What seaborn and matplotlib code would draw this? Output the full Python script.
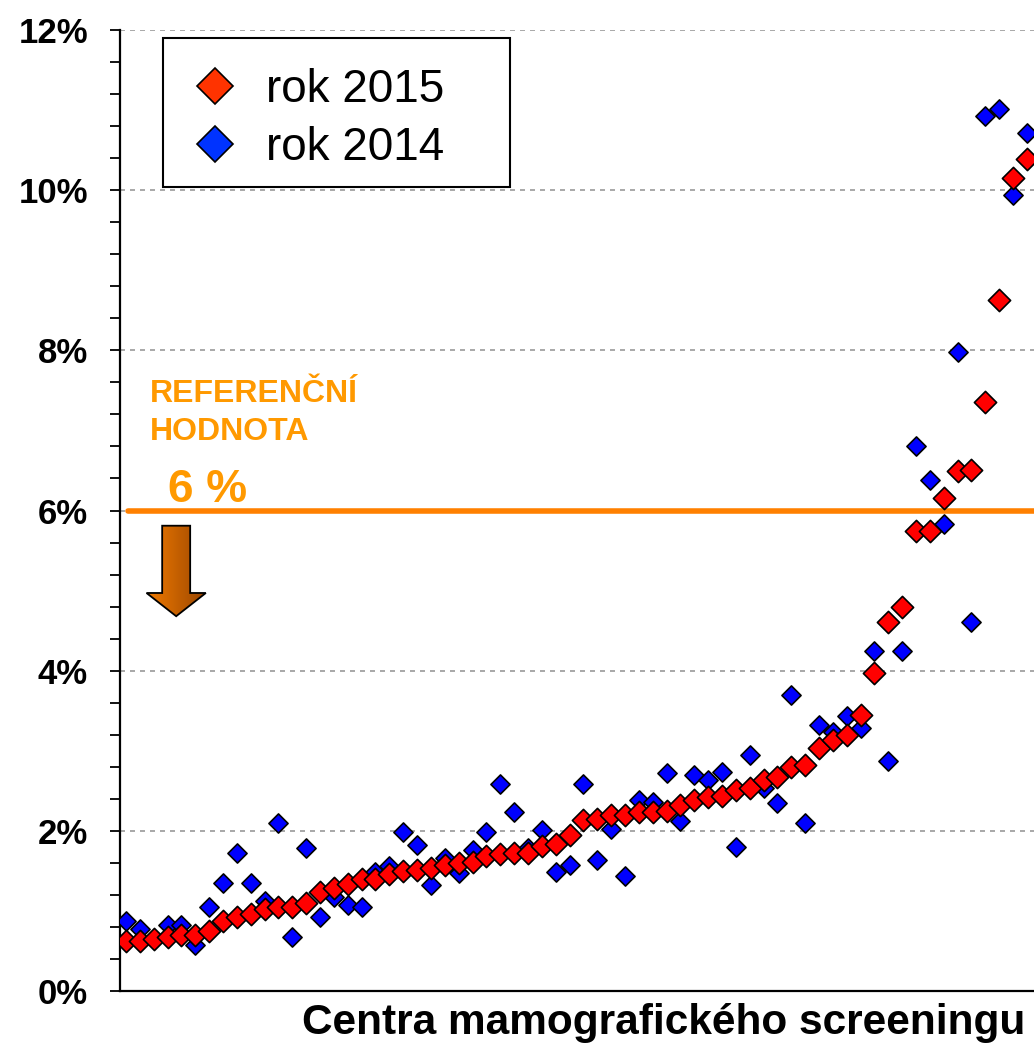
import numpy as np
import pandas as pd
import seaborn as sns
import matplotlib.pyplot as plt
from matplotlib.lines import Line2D
from matplotlib.patches import Polygon, Rectangle
from matplotlib.colors import LinearSegmentedColormap
from matplotlib.ticker import MultipleLocator, FuncFormatter

# podil (%) po centrech, serazeno podle roku 2015
rok_2015 = [0.62, 0.62, 0.65, 0.67, 0.70, 0.70, 0.75, 0.88, 0.93, 0.96,
            1.02, 1.05, 1.05, 1.10, 1.23, 1.28, 1.33, 1.40, 1.40, 1.46,
            1.50, 1.51, 1.53, 1.57, 1.60, 1.61, 1.68, 1.71, 1.72, 1.72,
            1.81, 1.84, 1.95, 2.13, 2.15, 2.20, 2.20, 2.23, 2.24, 2.25,
            2.32, 2.39, 2.42, 2.43, 2.51, 2.54, 2.63, 2.67, 2.80, 2.82,
            3.04, 3.14, 3.20, 3.45, 3.97, 4.61, 4.79, 5.74, 5.74, 6.16,
            6.49, 6.51, 7.35, 8.63, 10.15, 10.39]
rok_2014 = [0.88, 0.77, 0.65, 0.82, 0.82, 0.57, 1.05, 1.35, 1.72, 1.35,
            1.12, 2.10, 0.68, 1.78, 0.93, 1.17, 1.08, 1.05, 1.49, 1.56,
            1.98, 1.82, 1.32, 1.66, 1.47, 1.76, 1.98, 2.59, 2.23, 1.78,
            2.01, 1.48, 1.57, 2.59, 1.63, 2.02, 1.43, 2.38, 2.36, 2.72,
            2.12, 2.70, 2.63, 2.74, 1.80, 2.95, 2.54, 2.35, 3.70, 2.10,
            3.32, 3.23, 3.43, 3.29, 4.24, 2.87, 4.24, 6.80, 6.38, 5.83,
            7.98, 4.61, 10.92, 11.01, 9.94, 10.72]
series_labels = ["rok 2015", "rok 2014"]
ref_value = 6
ref_lines = ["REFERENČNÍ", "HODNOTA"]
ref_label = "6 %"
xlabel = "Centra mamografického screeningu"

centra = np.arange(1, len(rok_2015) + 1)
df = pd.DataFrame({
    "centrum": np.concatenate([centra, centra]),
    "podil": rok_2014 + rok_2015,
    "rok": ["2014"] * len(rok_2014) + ["2015"] * len(rok_2015),
})

sns.set_style("white")
plt.rcParams["font.family"] = ["Liberation Sans", "DejaVu Sans"]
plt.rcParams["text.color"] = "black"
plt.rcParams["ytick.color"] = "black"
plt.rcParams["xtick.color"] = "black"
plt.rcParams["axes.labelcolor"] = "black"

W, H = 1034, 1045
fig = plt.figure(figsize=(W / 100, H / 100), dpi=100)
ax = fig.add_axes([120 / W, 54 / H, 914 / W, 961 / H])

sns.scatterplot(data=df[df["rok"] == "2014"], x="centrum", y="podil",
                marker="D", s=95, color="#0000FF", edgecolor="black",
                linewidth=1.2, ax=ax, zorder=3, legend=False)
sns.scatterplot(data=df[df["rok"] == "2015"], x="centrum", y="podil",
                marker="D", s=128, color="#FF0000", edgecolor="black",
                linewidth=1.2, ax=ax, zorder=4, legend=False)

ax.set_xlim(0.567, 66.51)
ax.set_ylim(0, 12)
ax.set_xlabel("")
ax.set_ylabel("")
ax.set_xticks([])
ax.yaxis.set_major_locator(MultipleLocator(2))
ax.yaxis.set_minor_locator(MultipleLocator(0.4))
ax.yaxis.set_major_formatter(FuncFormatter(lambda v, p: f"{v:.0f}%"))
ax.tick_params(axis="y", which="both", direction="out", length=7,
               width=1.3, color="black", left=True, pad=16)
for lab in ax.get_yticklabels():
    lab.set_fontsize(25)
    lab.set_fontweight("bold")
    lab.set_color("black")

for side in ["top", "right"]:
    ax.spines[side].set_visible(False)
for side in ["left", "bottom"]:
    ax.spines[side].set_color("black")
    ax.spines[side].set_linewidth(1.6)

ax.yaxis.grid(True, which="major", linestyle=(0, (3, 3)),
              color="#999999", linewidth=1.2, zorder=0)
ax.set_axisbelow(True)

# referencni hodnota
ax.axhline(ref_value, xmin=8 / 914, xmax=1, color="#FF8000", lw=4, zorder=2)
orange = "#FF9900"
ax.text(2.73, ref_value + 1.36, ref_lines[0], color=orange, fontsize=23,
        fontweight="bold", ha="left", va="baseline")
ax.text(2.73, ref_value + 0.88, ref_lines[1], color=orange, fontsize=23,
        fontweight="bold", ha="left", va="baseline")
ax.text(4.0, ref_value + 0.11, ref_label, color=orange, fontsize=33,
        fontweight="bold", ha="left", va="baseline")

# sipka dolu
cx = 4.62
verts = [(cx - 1.01, ref_value - 0.19), (cx + 1.01, ref_value - 0.19),
         (cx + 1.01, ref_value - 1.03), (cx + 2.14, ref_value - 1.03),
         (cx, ref_value - 1.32), (cx - 2.14, ref_value - 1.03),
         (cx - 1.01, ref_value - 1.03)]
arrow = Polygon(verts, closed=True, facecolor="none", edgecolor="black",
                lw=1.3, zorder=6)
ax.add_patch(arrow)
grad = LinearSegmentedColormap.from_list("sipka", ["#F07A00", "#9A4600"])
img = ax.imshow(np.linspace(0, 1, 64).reshape(1, -1), cmap=grad,
                extent=[cx - 2.14, cx + 2.14, ref_value - 1.32, ref_value - 0.19],
                aspect="auto", zorder=5, interpolation="bilinear")
img.set_clip_path(arrow)
ax.set_xlim(0.567, 66.51)
ax.set_ylim(0, 12)

# ramecek legendy
fig.patches.append(Rectangle((163 / W, 1 - 187 / H), 347 / W, 149 / H,
                             transform=fig.transFigure, facecolor="white",
                             edgecolor="black", lw=1.5, zorder=4))
handles = [
    Line2D([], [], linestyle="none", marker="D", markersize=18,
           markerfacecolor="#FF3300", markeredgecolor="black", markeredgewidth=1.2),
    Line2D([], [], linestyle="none", marker="D", markersize=18,
           markerfacecolor="#0033FF", markeredgecolor="black", markeredgewidth=1.2),
]
leg = fig.legend(handles, series_labels, loc="upper left",
                 bbox_to_anchor=(160 / W, 1 - 36 / H), borderaxespad=0,
                 fontsize=33, frameon=False, handlelength=1.0,
                 handletextpad=0.62, borderpad=0.69, labelspacing=0.31)
leg.set_zorder(6)
for t in leg.get_texts():
    t.set_color("black")

fig.text(1025 / W, 1 - 1034 / H, xlabel, ha="right", va="baseline",
         fontsize=30.5, fontweight="bold", color="black")

fig.savefig("out.png", dpi=100)
